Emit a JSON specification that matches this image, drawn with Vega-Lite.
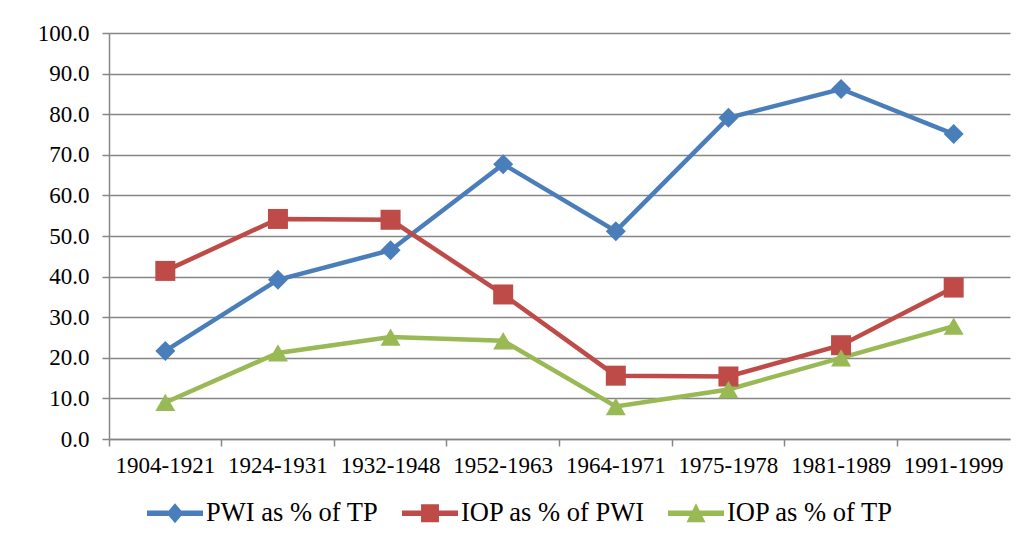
{
  "$schema": "https://vega.github.io/schema/vega-lite/v6.json",
  "autosize": {"type": "none"},
  "width": 901,
  "height": 406,
  "padding": {"left": 109, "top": 33, "right": 17, "bottom": 106},
  "background": "white",
  "config": {
    "view": {"stroke": null},
    "font": "Liberation Serif",
    "axis": {"labelFont": "Liberation Serif", "labelFontSize": 23, "labelColor": "black", "domainColor": "#868686", "tickColor": "#868686", "gridColor": "#868686", "domainWidth": 1.5, "tickWidth": 1.5, "gridWidth": 1.5, "tickSize": 7, "title": null},
    "legend": {"labelFont": "Liberation Serif", "labelFontSize": 26.5, "labelColor": "black", "labelLimit": 0}
  },
  "data": {
    "values": [
      {"period": "1904-1921", "series": "PWI as % of TP", "value": 21.7},
      {"period": "1924-1931", "series": "PWI as % of TP", "value": 39.2},
      {"period": "1932-1948", "series": "PWI as % of TP", "value": 46.5},
      {"period": "1952-1963", "series": "PWI as % of TP", "value": 67.7},
      {"period": "1964-1971", "series": "PWI as % of TP", "value": 51.2},
      {"period": "1975-1978", "series": "PWI as % of TP", "value": 79.1},
      {"period": "1981-1989", "series": "PWI as % of TP", "value": 86.2},
      {"period": "1991-1999", "series": "PWI as % of TP", "value": 75.1},
      {"period": "1904-1921", "series": "IOP as % of PWI", "value": 41.4},
      {"period": "1924-1931", "series": "IOP as % of PWI", "value": 54.2},
      {"period": "1932-1948", "series": "IOP as % of PWI", "value": 54.0},
      {"period": "1952-1963", "series": "IOP as % of PWI", "value": 35.6},
      {"period": "1964-1971", "series": "IOP as % of PWI", "value": 15.6},
      {"period": "1975-1978", "series": "IOP as % of PWI", "value": 15.4},
      {"period": "1981-1989", "series": "IOP as % of PWI", "value": 23.1},
      {"period": "1991-1999", "series": "IOP as % of PWI", "value": 37.3},
      {"period": "1904-1921", "series": "IOP as % of TP", "value": 9.0},
      {"period": "1924-1931", "series": "IOP as % of TP", "value": 21.2},
      {"period": "1932-1948", "series": "IOP as % of TP", "value": 25.1},
      {"period": "1952-1963", "series": "IOP as % of TP", "value": 24.2},
      {"period": "1964-1971", "series": "IOP as % of TP", "value": 8.0},
      {"period": "1975-1978", "series": "IOP as % of TP", "value": 12.2},
      {"period": "1981-1989", "series": "IOP as % of TP", "value": 20.0},
      {"period": "1991-1999", "series": "IOP as % of TP", "value": 27.8}
    ]
  },
  "encoding": {
    "x": {
      "field": "period", "type": "nominal", "sort": null,
      "scale": {"type": "band", "paddingInner": 0, "paddingOuter": 0},
      "axis": {"labelAngle": 0, "bandPosition": 0, "grid": false, "labelPadding": 8, "labelBound": false, "labelOverlap": false}
    },
    "y": {
      "field": "value", "type": "quantitative",
      "scale": {"domain": [0, 100], "nice": false, "zero": true},
      "axis": {"values": [0, 10, 20, 30, 40, 50, 60, 70, 80, 90, 100], "format": ".1f", "labelPadding": 13, "grid": true}
    },
    "color": {
      "field": "series", "type": "nominal",
      "scale": {"domain": ["PWI as % of TP", "IOP as % of PWI", "IOP as % of TP"], "range": ["#4A7EBB", "#BE4B48", "#98B954"]},
      "legend": {
        "title": null, "orient": "none", "direction": "horizontal", "legendX": 38, "legendY": 452,
        "symbolSize": 3136, "labelOffset": 3, "columnPadding": 23, "padding": 0,
        "symbolOpacity": 1, "symbolStrokeWidth": 0
      }
    }
  },
  "layer": [
    {
      "mark": {"type": "line", "strokeWidth": 4.5}
    },
    {
      "transform": [{"filter": "datum.series === 'PWI as % of TP'"}],
      "mark": {"type": "point", "filled": true, "opacity": 1, "size": 400, "strokeWidth": 0, "shape": "diamond"}
    },
    {
      "transform": [{"filter": "datum.series === 'IOP as % of PWI'"}],
      "mark": {"type": "point", "filled": true, "opacity": 1, "size": 400, "strokeWidth": 0, "shape": "square"}
    },
    {
      "transform": [{"filter": "datum.series === 'IOP as % of TP'"}],
      "mark": {"type": "point", "filled": true, "opacity": 1, "size": 400, "strokeWidth": 0, "shape": "triangle-up"}
    },
    {
      "mark": {"type": "point", "filled": true, "opacity": 0, "size": 400, "strokeWidth": 0},
      "encoding": {
        "shape": {
          "field": "series", "type": "nominal",
          "scale": {"domain": ["PWI as % of TP", "IOP as % of PWI", "IOP as % of TP"], "range": ["M-1,-0.1H1V0.1H-1Z M0,-0.36L0.3,0L0,0.36L-0.3,0Z", "M-1,-0.1H1V0.1H-1Z M-0.32,-0.32H0.32V0.32H-0.32Z", "M-1,-0.1H1V0.1H-1Z M0,-0.36L0.34,0.32L-0.34,0.32Z"]},
          "legend": {
            "title": null, "orient": "none", "direction": "horizontal", "legendX": 38, "legendY": 452,
            "symbolSize": 3136, "labelOffset": 3, "columnPadding": 23, "padding": 0,
            "symbolOpacity": 1, "symbolStrokeWidth": 0
          }
        }
      }
    }
  ]
}
